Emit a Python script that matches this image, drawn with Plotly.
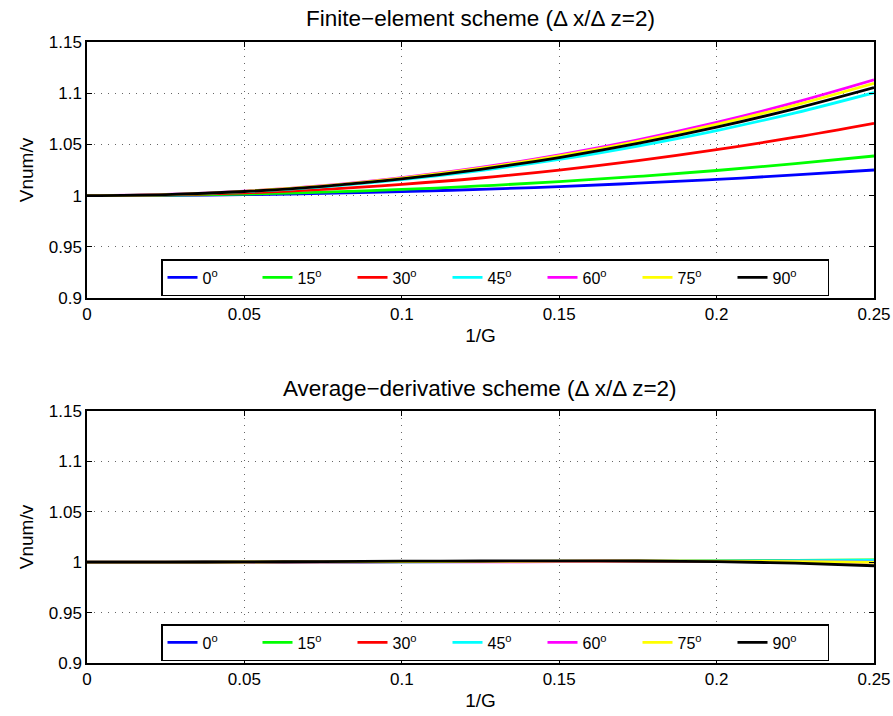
import plotly.graph_objects as go

# ---- data ----
inv_g = [0.0, 0.025, 0.05, 0.075, 0.1, 0.125, 0.15, 0.175, 0.2, 0.225, 0.25]
angles = ["0", "15", "30", "45", "60", "75", "90"]
colors = ["#0000ff", "#00ff00", "#ff0000", "#00ffff", "#ff00ff", "#ffff00", "#000000"]

fe_0 = [1.0, 1.0002, 1.0009, 1.0022, 1.0039, 1.0061, 1.0088, 1.0121, 1.0158, 1.0202, 1.0250]
fe_15 = [1.0, 1.0004, 1.0015, 1.0033, 1.0060, 1.0094, 1.0137, 1.0187, 1.0245, 1.0312, 1.0387]
fe_30 = [1.0, 1.0007, 1.0027, 1.0061, 1.0110, 1.0172, 1.0249, 1.0341, 1.0448, 1.0570, 1.0706]
fe_45 = [1.0, 1.0010, 1.0038, 1.0086, 1.0156, 1.0244, 1.0353, 1.0484, 1.0635, 1.0808, 1.1005]
fe_60 = [1.0, 1.0011, 1.0043, 1.0097, 1.0176, 1.0275, 1.0398, 1.0545, 1.0715, 1.0910, 1.1130]
fe_75 = [1.0, 1.0010, 1.0042, 1.0095, 1.0171, 1.0267, 1.0387, 1.0529, 1.0695, 1.0884, 1.1097]
fe_90 = [1.0, 1.0010, 1.0040, 1.0091, 1.0164, 1.0257, 1.0372, 1.0509, 1.0668, 1.0850, 1.1055]

ad_0 = [1.0, 1.0000, 1.0001, 1.0003, 1.0005, 1.0006, 1.0007, 1.0008, 1.0008, 1.0009, 1.0010]
ad_15 = [1.0, 1.0000, 1.0001, 1.0002, 1.0004, 1.0006, 1.0008, 1.0010, 1.0013, 1.0017, 1.0022]
ad_30 = [1.0, 1.0000, 1.0001, 1.0003, 1.0005, 1.0007, 1.0009, 1.0010, 1.0011, 1.0012, 1.0012]
ad_45 = [1.0, 1.0000, 1.0001, 1.0002, 1.0003, 1.0005, 1.0007, 1.0009, 1.0012, 1.0015, 1.0018]
ad_60 = [1.0, 1.0000, 1.0001, 1.0002, 1.0003, 1.0004, 1.0005, 1.0006, 1.0006, 1.0004, 1.0000]
ad_75 = [1.0, 1.0001, 1.0002, 1.0004, 1.0006, 1.0008, 1.0010, 1.0011, 1.0010, 1.0006, 0.9998]
ad_90 = [1.0, 1.0001, 1.0003, 1.0006, 1.0010, 1.0012, 1.0013, 1.0012, 1.0005, 0.9990, 0.9965]

x_ticks = [0, 0.05, 0.1, 0.15, 0.2, 0.25]
x_ticklabels = ["0", "0.05", "0.1", "0.15", "0.2", "0.25"]
y_ticks = [0.9, 0.95, 1.0, 1.05, 1.1, 1.15]
y_ticklabels = ["0.9", "0.95", "1", "1.05", "1.1", "1.15"]

titles = ["Finite\u2212element scheme (\u0394 x/\u0394 z=2)",
          "Average\u2212derivative scheme (\u0394 x/\u0394 z=2)"]

fe_series = [fe_0, fe_15, fe_30, fe_45, fe_60, fe_75, fe_90]
ad_series = [ad_0, ad_15, ad_30, ad_45, ad_60, ad_75, ad_90]

W, H = 893, 716
FONT = "Liberation Sans, Arial, sans-serif"

fig = go.Figure()
for ang, col, ys in zip(angles, colors, fe_series):
    fig.add_trace(go.Scatter(x=inv_g, y=ys, mode="lines", name=ang + "<sup>o</sup>",
                             line=dict(color=col, width=2.8, shape="spline"),
                             xaxis="x", yaxis="y", legend="legend"))
for ang, col, ys in zip(angles, colors, ad_series):
    fig.add_trace(go.Scatter(x=inv_g, y=ys, mode="lines", name=ang + "<sup>o</sup>",
                             line=dict(color=col, width=2.8, shape="spline"),
                             xaxis="x2", yaxis="y2", legend="legend2"))

xdom = [87 / W, 874 / W]
top_dom = [1 - 298 / H, 1 - 42 / H]
bot_dom = [1 - 663 / H, 1 - 411 / H]

def xax(anchor):
    return dict(domain=xdom, anchor=anchor, range=[0, 0.25], tickmode="array",
                tickvals=x_ticks, ticktext=x_ticklabels, ticks="inside", ticklen=5,
                tickcolor="black", showline=True, linecolor="black", linewidth=1.5,
                mirror="ticks", showgrid=True, gridcolor="#666666", griddash="1px,6px",
                gridwidth=1, zeroline=False, automargin=False,
                tickfont=dict(size=17, color="black"),
                title=dict(text="1/G", font=dict(size=19, color="black"), standoff=6))

def yax(anchor, dom):
    return dict(domain=dom, anchor=anchor, range=[0.9, 1.15], tickmode="array",
                tickvals=y_ticks, ticktext=y_ticklabels, ticks="inside", ticklen=5,
                tickcolor="black", showline=True, linecolor="black", linewidth=1.5,
                mirror="ticks", showgrid=True, gridcolor="#666666", griddash="1px,6px",
                gridwidth=1, zeroline=False, automargin=False,
                tickfont=dict(size=17, color="black"),
                title=dict(text="Vnum/v", font=dict(size=19, color="black"), standoff=10))

def leg(ytop):
    return dict(orientation="h", x=161 / W, xanchor="left", y=1 - ytop / H, yanchor="top",
                bordercolor="black", borderwidth=1.5, bgcolor="white",
                font=dict(size=16, color="black", family=FONT),
                itemwidth=30, entrywidth=50, tracegroupgap=0)

fig.update_layout(
    width=W, height=H, margin=dict(l=0, r=0, t=0, b=0, autoexpand=False),
    paper_bgcolor="white", plot_bgcolor="white",
    font=dict(family=FONT, color="black"),
    xaxis=xax("y"), yaxis=yax("x", top_dom),
    xaxis2=xax("y2"), yaxis2=yax("x2", bot_dom),
    legend=leg(259), legend2=leg(624),
    annotations=[
        dict(text=titles[0], x=480 / W, y=1 - 18 / H, xref="paper", yref="paper",
             showarrow=False, font=dict(size=22.5, color="black"), xanchor="center", yanchor="middle"),
        dict(text=titles[1], x=480 / W, y=1 - 388 / H, xref="paper", yref="paper",
             showarrow=False, font=dict(size=22.5, color="black"), xanchor="center", yanchor="middle"),
    ],
)

fig.write_html("out.html", config={"displayModeBar": False},
               post_script="document.body.style.margin='0';document.body.style.overflow='hidden';")
